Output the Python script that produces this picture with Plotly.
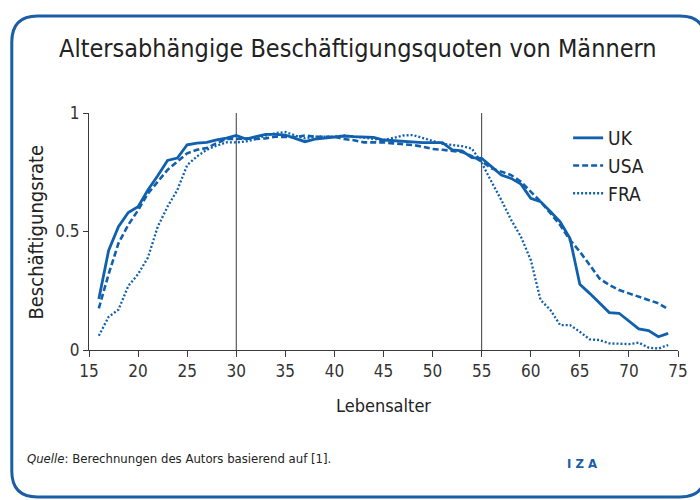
import plotly.graph_objects as go

ages = list(range(16, 75))

uk = [0.215, 0.42, 0.52, 0.58, 0.605, 0.675, 0.735, 0.80, 0.81, 0.866,
      0.873, 0.876, 0.887, 0.894, 0.905, 0.89, 0.90, 0.91, 0.91, 0.907,
      0.893, 0.879, 0.89, 0.895, 0.90, 0.903, 0.90, 0.897, 0.897, 0.886,
      0.883, 0.882, 0.876, 0.875, 0.875, 0.875, 0.844, 0.84, 0.812, 0.809,
      0.774, 0.738, 0.724, 0.70, 0.64, 0.626, 0.584, 0.541, 0.47, 0.277,
      0.239, 0.20, 0.158, 0.155, 0.12, 0.089, 0.082, 0.056, 0.07]

usa = [0.176, 0.32, 0.45, 0.528, 0.59, 0.66, 0.71, 0.76, 0.795, 0.83,
       0.845, 0.852, 0.873, 0.89, 0.89, 0.893, 0.89, 0.893, 0.90, 0.90,
       0.898, 0.905, 0.90, 0.90, 0.90, 0.89, 0.885, 0.876, 0.876, 0.876,
       0.872, 0.87, 0.865, 0.858, 0.848, 0.845, 0.84, 0.835, 0.818, 0.795,
       0.767, 0.752, 0.738, 0.71, 0.668, 0.626, 0.577, 0.527, 0.464, 0.415,
       0.359, 0.302, 0.274, 0.253, 0.239, 0.225, 0.211, 0.197, 0.172]

fra = [0.06, 0.14, 0.17, 0.27, 0.32, 0.39, 0.52, 0.605, 0.675, 0.78,
       0.817, 0.845, 0.862, 0.876, 0.876, 0.88, 0.89, 0.905, 0.915, 0.92,
       0.905, 0.893, 0.90, 0.90, 0.90, 0.905, 0.90, 0.893, 0.89, 0.886,
       0.895, 0.905, 0.907, 0.895, 0.88, 0.87, 0.865, 0.86, 0.85, 0.79,
       0.71, 0.633, 0.549, 0.478, 0.38, 0.211, 0.169, 0.105, 0.105, 0.077,
       0.045, 0.042, 0.028, 0.025, 0.025, 0.031, 0.01, 0.006, 0.021]

x_ticks = [15, 20, 25, 30, 35, 40, 45, 50, 55, 60, 65, 70, 75]
y_ticks = [0, 0.5, 1]
y_tick_labels = ["0", "0.5", "1"]
marker_ages = [30, 55]

BLUE = "#1160ae"
GREY = "#3a3a3a"
FONT = "Liberation Sans Narrow, DejaVu Sans Condensed, Roboto Condensed, Arial Narrow, sans-serif"

fig = go.Figure()
fig.add_trace(go.Scatter(x=ages, y=uk, name="UK", mode="lines",
                         line=dict(color=BLUE, width=2.8)))
fig.add_trace(go.Scatter(x=ages, y=usa, name="USA", mode="lines",
                         line=dict(color=BLUE, width=2.6, dash="6px,3px")))
fig.add_trace(go.Scatter(x=ages, y=fra, name="FRA", mode="lines",
                         line=dict(color=BLUE, width=2.3, dash="2px,2px")))

for a in marker_ages:
    fig.add_shape(type="line", xref="x", yref="y", x0=a, x1=a, y0=0, y1=1,
                  line=dict(color=GREY, width=1), layer="below")

FIG_W, FIG_H = 700, 500
W, H, L, T = 595.0, 237.0, 89.0, 113.0
def px(xp):
    return (xp - L) / W
def py(yp):
    return (T + H - yp) / H
x0, x1, y0, y1, r = 11, 712, 16, 497, 26
path = (f"M {px(x0)},{py(y0 + r)} "
        f"Q {px(x0)},{py(y0)} {px(x0 + r)},{py(y0)} "
        f"L {px(x1 - r)},{py(y0)} "
        f"Q {px(x1)},{py(y0)} {px(x1)},{py(y0 + r)} "
        f"L {px(x1)},{py(y1 - r)} "
        f"Q {px(x1)},{py(y1)} {px(x1 - r)},{py(y1)} "
        f"L {px(x0 + r)},{py(y1)} "
        f"Q {px(x0)},{py(y1)} {px(x0)},{py(y1 - r)} Z")
fig.add_shape(type="path", xref="paper", yref="paper", path=path,
              line=dict(color="#1a5ea6", width=3), layer="below")

fig.add_annotation(text="Altersabhängige Beschäftigungsquoten von Männern",
                   xref="paper", yref="paper", x=px(361), y=py(48),
                   xanchor="center", yanchor="middle", showarrow=False,
                   font=dict(family=FONT, size=25, color="#222"))
fig.add_annotation(text="Lebensalter", xref="paper", yref="paper",
                   x=px(387), y=py(405), xanchor="center", yanchor="middle",
                   showarrow=False, font=dict(family=FONT, size=18, color="#222"))
fig.add_annotation(text="Beschäftigungsrate", xref="paper", yref="paper",
                   x=px(35), y=py(232), xanchor="center", yanchor="middle",
                   textangle=-90, showarrow=False,
                   font=dict(family=FONT, size=20, color="#222"))
fig.add_annotation(text="<i>Quelle</i>: Berechnungen des Autors basierend auf [1].",
                   xref="paper", yref="paper", x=px(24), y=py(458),
                   xanchor="left", yanchor="middle", showarrow=False,
                   font=dict(family=FONT, size=13, color="#222"))
fig.add_annotation(text="<b>I Z A</b>", xref="paper", yref="paper",
                   x=px(587), y=py(463), xanchor="center", yanchor="middle",
                   showarrow=False, font=dict(family=FONT, size=13, color="#1a5ea6"))

fig.update_layout(
    width=FIG_W, height=FIG_H,
    margin=dict(l=L, r=FIG_W - (L + W), t=T, b=FIG_H - (T + H)),
    paper_bgcolor="white", plot_bgcolor="white",
    font=dict(family=FONT, size=17, color="#333"),
    showlegend=True,
    legend=dict(x=px(573), y=py(119), xanchor="left", yanchor="top",
                bgcolor="rgba(0,0,0,0)", font=dict(family=FONT, size=19, color="#222"),
                itemwidth=30, tracegroupgap=0),
    xaxis=dict(range=[15, 75], tickvals=x_ticks, showgrid=False, zeroline=False,
               showline=True, linecolor=GREY, linewidth=1, ticks="outside",
               ticklen=6, tickcolor=GREY, tickfont=dict(size=17, color="#333")),
    yaxis=dict(range=[0, 1], tickvals=y_ticks, ticktext=y_tick_labels,
               showgrid=False, zeroline=False, showline=True, linecolor=GREY,
               linewidth=1, ticks="outside", ticklen=5, tickcolor=GREY,
               tickfont=dict(size=17, color="#333")),
)

fig.write_html("out.html",
               config={"displayModeBar": False},
               post_script="document.body.style.margin='0';"
                           "document.body.style.overflow='hidden';")
